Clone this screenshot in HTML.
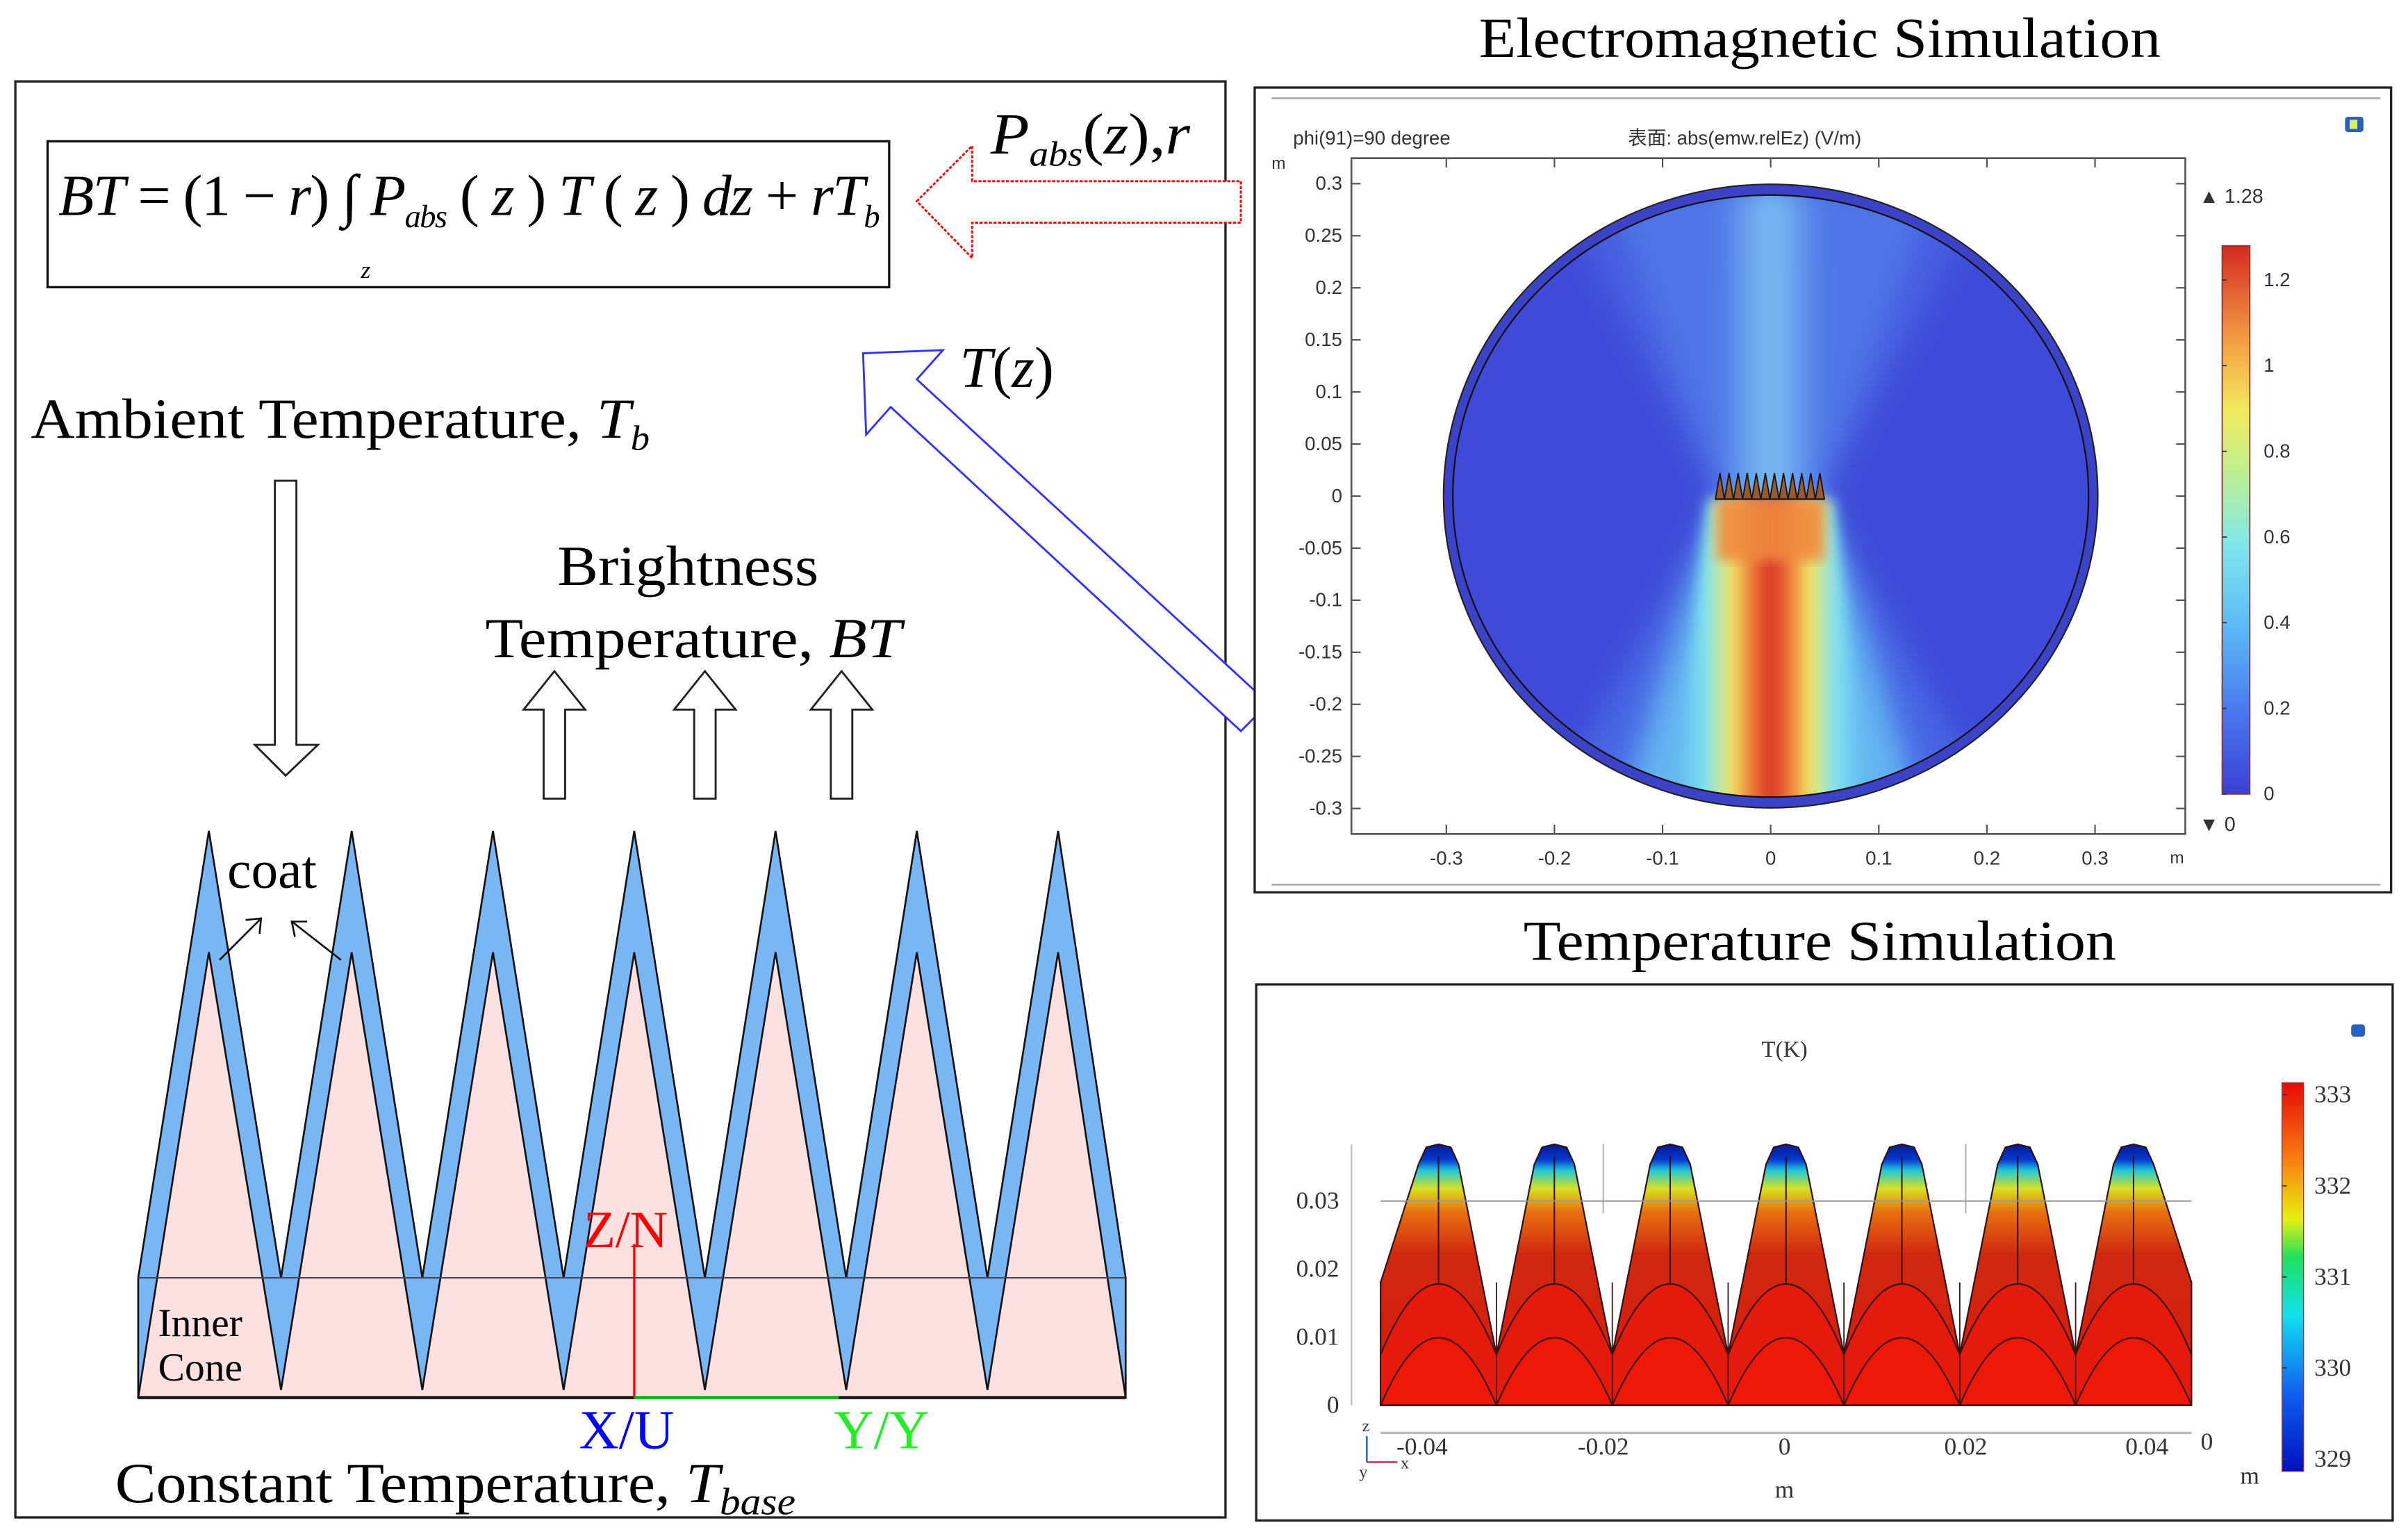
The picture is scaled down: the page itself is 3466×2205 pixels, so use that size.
<!DOCTYPE html>
<html><head><meta charset="utf-8">
<style>
html,body{margin:0;padding:0;background:#fff;}
svg{display:block;}
.serif{font-family:"Liberation Serif",serif;}
.sans{font-family:"Liberation Sans","Noto Sans CJK SC",sans-serif;}
</style></head>
<body>
<svg id="fig" width="3466" height="2205" viewBox="0 0 1568 997.5" preserveAspectRatio="none" xmlns="http://www.w3.org/2000/svg">
<defs>
  <linearGradient id="jet" x1="0" y1="1" x2="0" y2="0">
    <stop offset="0" stop-color="#3a3fd2"/>
    <stop offset="0.15" stop-color="#4a78ee"/>
    <stop offset="0.3" stop-color="#5ab8f5"/>
    <stop offset="0.45" stop-color="#7fe6ee"/>
    <stop offset="0.6" stop-color="#c4f08a"/>
    <stop offset="0.7" stop-color="#f2ea5e"/>
    <stop offset="0.82" stop-color="#f4a244"/>
    <stop offset="1" stop-color="#d42a22"/>
  </linearGradient>
  <linearGradient id="tjet" x1="0" y1="1" x2="0" y2="0">
    <stop offset="0" stop-color="#0010c0"/>
    <stop offset="0.2" stop-color="#1060f0"/>
    <stop offset="0.4" stop-color="#10e0f0"/>
    <stop offset="0.55" stop-color="#20e060"/>
    <stop offset="0.65" stop-color="#e8f010"/>
    <stop offset="0.8" stop-color="#f88010"/>
    <stop offset="1" stop-color="#e80808"/>
  </linearGradient>
  <linearGradient id="beamDown" x1="0" y1="0" x2="1" y2="0">
    <stop offset="0" stop-color="#6fd0f5" stop-opacity="0"/>
    <stop offset="0.18" stop-color="#80e4ef"/>
    <stop offset="0.3" stop-color="#f0e860"/>
    <stop offset="0.4" stop-color="#ee7a3a"/>
    <stop offset="0.5" stop-color="#d83024"/>
    <stop offset="0.6" stop-color="#ee7a3a"/>
    <stop offset="0.7" stop-color="#f0e860"/>
    <stop offset="0.82" stop-color="#80e4ef"/>
    <stop offset="1" stop-color="#6fd0f5" stop-opacity="0"/>
  </linearGradient>
  <linearGradient id="beamUp" x1="0" y1="0" x2="1" y2="0">
    <stop offset="0" stop-color="#7fd4f8" stop-opacity="0"/>
    <stop offset="0.5" stop-color="#8edcf8"/>
    <stop offset="1" stop-color="#7fd4f8" stop-opacity="0"/>
  </linearGradient>
  <linearGradient id="coneGrad" x1="0" y1="0" x2="0" y2="1">
    <stop offset="0" stop-color="#001a90"/>
    <stop offset="0.06" stop-color="#0838d0"/>
    <stop offset="0.1" stop-color="#20c8d8"/>
    <stop offset="0.17" stop-color="#d8e020"/>
    <stop offset="0.26" stop-color="#e87010"/>
    <stop offset="0.42" stop-color="#d02810"/>
    <stop offset="1" stop-color="#d81a0c"/>
  </linearGradient>
  <filter id="blur4"><feGaussianBlur stdDeviation="4"/></filter>
  <filter id="blur8"><feGaussianBlur stdDeviation="9"/></filter>
  <clipPath id="innerCircle"><ellipse cx="1153" cy="323" rx="207" ry="196"/></clipPath>
</defs>

<!-- LEFT PANEL -->
<g>
  <rect x="10" y="53" width="788" height="935" fill="none" stroke="#222" stroke-width="1.5"/>
  <rect x="31" y="92" width="548" height="95" fill="#fff" stroke="#111" stroke-width="1.5"/>
  <text x="38" y="140" class="serif" font-size="38" font-style="italic" textLength="535" lengthAdjust="spacing">BT<tspan font-style="normal"> = (1 − </tspan>r<tspan font-style="normal">) ∫ </tspan>P<tspan font-size="21" dy="8">abs</tspan><tspan dy="-8" font-style="normal"> ( </tspan>z<tspan font-style="normal"> ) </tspan>T<tspan font-style="normal"> ( </tspan>z<tspan font-style="normal"> ) </tspan>dz<tspan font-style="normal"> + </tspan>rT<tspan font-size="21" dy="8">b</tspan></text>
  <text x="235" y="181" class="serif" font-size="16" font-style="italic">z</text>

  <polygon points="597,131 633,95 633,118 808,118 808,145 633,145 633,168" fill="#fff" stroke="#f00" stroke-width="1.3" stroke-dasharray="2,1"/>
  <text x="645" y="100" class="serif" font-size="38" font-style="italic" textLength="130" lengthAdjust="spacingAndGlyphs">P<tspan font-size="23" dy="8">abs</tspan><tspan dy="-8" font-style="normal">(</tspan>z<tspan font-style="normal">),</tspan>r</text>

  <polygon points="562,230 614,228 597,247 826,458 808,476 580,265 564,283" fill="#fff" stroke="#33f" stroke-width="1.3"/>
  <text x="625" y="252" class="serif" font-size="38" font-style="italic">T<tspan font-style="normal">(</tspan>z<tspan font-style="normal">)</tspan></text>

  <text x="20" y="285" class="serif" font-size="37" textLength="403" lengthAdjust="spacingAndGlyphs">Ambient Temperature, <tspan font-style="italic">T</tspan><tspan font-style="italic" font-size="23" dy="8">b</tspan></text>
  <polygon points="179,313 193,313 193,485 207,485 186,505 166,485 179,485" fill="#fff" stroke="#222" stroke-width="1.3"/>

  <text x="363" y="381" class="serif" font-size="37" textLength="170" lengthAdjust="spacingAndGlyphs">Brightness</text>
  <text x="316" y="428" class="serif" font-size="37" textLength="271" lengthAdjust="spacingAndGlyphs">Temperature, <tspan font-style="italic">BT</tspan></text>
  <g id="upArrows"></g>

  <g id="cones"></g>

  <text x="380" y="812" class="serif" font-size="34" fill="#f00">Z/N</text>
  <line x1="413" y1="810" x2="413" y2="910" stroke="#f00" stroke-width="1.5"/>
  <line x1="413" y1="910" x2="546" y2="910" stroke="#0b0" stroke-width="2"/>
  <text x="377" y="943" class="serif" font-size="36" fill="#00f">X/U</text>
  <text x="543" y="943" class="serif" font-size="36" fill="#2e2">Y/Y</text>
  <text x="103" y="870" class="serif" font-size="26">Inner</text>
  <text x="103" y="899" class="serif" font-size="26">Cone</text>
  <text x="148" y="578" class="serif" font-size="35">coat</text>
  <g stroke="#111" stroke-width="1.2" fill="none">
    <line x1="143" y1="625" x2="170" y2="598"/><polyline points="160,599 170,598 169,608"/>
    <line x1="222" y1="625" x2="190" y2="600"/><polyline points="200,600 190,600 192,610"/>
  </g>
  <text x="75" y="978" class="serif" font-size="37" textLength="443" lengthAdjust="spacingAndGlyphs">Constant Temperature, <tspan font-style="italic">T</tspan><tspan font-style="italic" font-size="25" dy="8">base</tspan></text>
</g>

<!-- EM PANEL -->
<text x="1185" y="37" class="serif" font-size="37" text-anchor="middle" textLength="444" lengthAdjust="spacingAndGlyphs">Electromagnetic Simulation</text>
<g>
  <rect x="817" y="57" width="740" height="524" fill="#fff" stroke="#222" stroke-width="1.5"/>
  <line x1="828" y1="64" x2="1550" y2="64" stroke="#aaa" stroke-width="1.2"/>
  <line x1="828" y1="576" x2="1550" y2="576" stroke="#aaa" stroke-width="1.2"/>
  <rect x="1527" y="76" width="12" height="10" rx="2" fill="#2a5fc0"/>
  <rect x="1530" y="78" width="5" height="6" fill="#d8f060"/>
  <text x="842" y="94" class="sans" font-size="12.5" fill="#333">phi(91)=90 degree</text>
  <text x="1060" y="94" class="sans" font-size="12.5" fill="#333">表面: abs(emw.relEz) (V/m)</text>
  <text x="828" y="110" class="sans" font-size="11" fill="#333">m</text>

  <g>
    <ellipse cx="1153" cy="323" rx="213" ry="203" fill="#3d43c6" stroke="#222" stroke-width="1"/>
    <g clip-path="url(#innerCircle)">
      <rect x="940" y="120" width="430" height="410" fill="#3f4bd8"/>
      <g filter="url(#blur8)" opacity="0.85">
        <polygon points="1120,325 1186,325 1300,120 1006,120" fill="#4f6ee8" opacity="0.6"/>
        <polygon points="1120,325 1186,325 1260,120 1046,120" fill="#5a90ef" opacity="0.6"/>
        <polygon points="1120,325 1186,325 1185,120 1121,120" fill="url(#beamUp)"/>
        <polygon points="1120,325 1186,325 1300,530 1006,530" fill="#4c74ea" opacity="0.8"/>
        <polygon points="1120,325 1186,325 1250,530 1056,530" fill="#6cc8f5"/>
      </g>
      <polygon points="1112,325 1194,325 1218,530 1088,530" fill="url(#beamDown)" filter="url(#blur4)"/>
      <rect x="1118" y="325" width="70" height="40" fill="#ef8a40" filter="url(#blur4)" opacity="0.9"/>
    </g>
    <ellipse cx="1153" cy="323" rx="207" ry="196" fill="none" stroke="#111" stroke-width="1"/>
    <g id="emCones"></g>
  </g>
  <rect x="880" y="103" width="543" height="440" fill="none" stroke="#555" stroke-width="1.2"/>
  <g id="emAxes"></g>
  <text x="1413" y="562" class="sans" font-size="11" fill="#333">m</text>
  <rect x="1447" y="160" width="18" height="357" fill="url(#jet)" stroke="#833" stroke-width="0.8"/>
  <g id="emCbar"></g>
  <text x="1432" y="132" class="sans" font-size="13" fill="#333">▲ 1.28</text>
  <text x="1432" y="541" class="sans" font-size="13" fill="#333">▼ 0</text>
</g>

<!-- TEMPERATURE PANEL -->
<text x="1185" y="625" class="serif" font-size="37" text-anchor="middle" textLength="386" lengthAdjust="spacingAndGlyphs">Temperature Simulation</text>
<g>
  <rect x="818" y="641" width="740" height="349" fill="#fff" stroke="#222" stroke-width="1.5"/>
  <rect x="1531" y="667" width="9" height="8" rx="2" fill="#2a5fc0"/>
  <text x="1162" y="688" class="serif" font-size="15" text-anchor="middle" fill="#333">T(K)</text>
  <line x1="880" y1="745" x2="880" y2="915" stroke="#bbb" stroke-width="1"/>
  <g id="tempCones"></g>
  <g id="tempAxes"></g>
  <line x1="899" y1="933" x2="1427" y2="933" stroke="#bbb" stroke-width="1.5"/>
  <text x="1162" y="975" class="serif" font-size="16" text-anchor="middle" fill="#333">m</text>
  <text x="1465" y="966" class="serif" font-size="16" text-anchor="middle" fill="#333">m</text>
  <text x="1437" y="944" class="serif" font-size="16" text-anchor="middle" fill="#333">0</text>
  <g>
    <line x1="890" y1="952" x2="890" y2="935" stroke="#36c" stroke-width="1.2"/>
    <line x1="890" y1="952" x2="910" y2="952" stroke="#c36" stroke-width="1.2"/>
    <text x="887" y="932" class="serif" font-size="11" fill="#333">z</text>
    <text x="912" y="956" class="serif" font-size="11" fill="#333">x</text>
    <text x="885" y="962" class="serif" font-size="11" fill="#333">y</text>
  </g>
  <rect x="1486" y="705" width="14" height="253" fill="url(#tjet)" stroke="#833" stroke-width="0.6"/>
  <g id="tempCbar"></g>
</g>
</svg>

<script>
const NS = "http://www.w3.org/2000/svg";
// ---- data arrays ----
const coneTipX = [136, 229, 321, 413, 505, 597, 689];
const coneValleyX = [183, 275, 367, 459, 551, 643];
const upArrowX = [361, 459, 548];
const emYTicks = [0.3, 0.25, 0.2, 0.15, 0.1, 0.05, 0, -0.05, -0.1, -0.15, -0.2, -0.25, -0.3];
const emYLabels = ["0.3","0.25","0.2","0.15","0.1","0.05","0","-0.05","-0.1","-0.15","-0.2","-0.25","-0.3"];
const emXTicks = [-0.3, -0.2, -0.1, 0, 0.1, 0.2, 0.3];
const emXLabels = ["-0.3","-0.2","-0.1","0","0.1","0.2","0.3"];
const emCbarTicks = [0, 0.2, 0.4, 0.6, 0.8, 1, 1.2];
const emCbarLabels = ["0","0.2","0.4","0.6","0.8","1","1.2"];
const emCbarMax = 1.28;
const tempYTicks = [0, 0.01, 0.02, 0.03];
const tempYLabels = ["0","0.01","0.02","0.03"];
const tempXTicks = [-0.04, -0.02, 0, 0.02, 0.04];
const tempXLabels = ["-0.04","-0.02","0","0.02","0.04"];
const tempCbarTicks = [329, 330, 331, 332, 333];
const tempCbarLabels = ["329","330","331","332","333"];
const tempConeCount = 7;

// ---- axis functions ----
const emX = v => 1153 + v * 704;
const emY = v => 323 - v * 678;
const emC = v => 517 - (v / emCbarMax) * 357;
const tX = v => 1162 + v * 5900;
const tY = v => 915 - v * 4433;
const tC = v => 950 - (v - 329) * 59.3;

function mk(tag, attrs, parent) {
  const e = document.createElementNS(NS, tag);
  for (const k in attrs) e.setAttribute(k, attrs[k]);
  parent.appendChild(e);
  return e;
}
function txt(x, y, s, size, anchor, parent, cls, fill) {
  const t = mk("text", {x: x, y: y, "font-size": size, "text-anchor": anchor, class: cls, fill: fill || "#333"}, parent);
  t.textContent = s;
  return t;
}

// up arrows
const ua = document.getElementById("upArrows");
upArrowX.forEach(x => {
  const p = mk("polygon", {points: `${x},437 ${x+20},462 ${x+7},462 ${x+7},520 ${x-7},520 ${x-7},462 ${x-20},462`, fill: "#fff", stroke: "#222", "stroke-width": 1.3}, ua);
  
  
});

// cones diagram
const cg = document.getElementById("cones");
let outer = "90,910 90,832 ";
let inner = "90,910 ";
coneTipX.forEach((x, i) => {
  outer += `${x},541 `;
  inner += `${x},620 `;
  if (i < coneValleyX.length) { outer += `${coneValleyX[i]},832 `; inner += `${coneValleyX[i]},905 `; }
});
outer += "733,832 733,910";
inner += "733,910";
const op = mk("polygon", {points: outer, fill: "#79b6f4", stroke: "#111", "stroke-width": 1.2}, cg);


const ip = mk("polygon", {points: inner, fill: "#fde0e0", stroke: "#111", "stroke-width": 1.2}, cg);


const hl = mk("line", {x1: 90, y1: 832, x2: 733, y2: 832, stroke: "#445", "stroke-width": 1}, cg);


const bl = mk("line", {x1: 90, y1: 910, x2: 733, y2: 910, stroke: "#111", "stroke-width": 2}, cg);



// EM small cones
const ec = document.getElementById("emCones");
let ep = "1117,325 ";
for (let i = 0; i < 12; i++) {
  const x0 = 1117 + i * 71 / 12;
  ep += `${x0 + 71/24},308 ${x0 + 71/12},325 `;
}
const emc = mk("polygon", {points: ep, fill: "#9a5a30", stroke: "#111", "stroke-width": 0.8}, ec);


mk("line", {x1: 1117, y1: 325, x2: 1188, y2: 325, stroke: "#222", "stroke-width": 1.2}, ec);

// EM axes
const ea = document.getElementById("emAxes");
emYTicks.forEach((v, i) => {
  const y = emY(v);
  mk("line", {x1: 880, y1: y, x2: 886, y2: y, stroke: "#555", "stroke-width": 1}, ea);
  mk("line", {x1: 1417, y1: y, x2: 1423, y2: y, stroke: "#555", "stroke-width": 1}, ea);
  const t = txt(874, y + 4, emYLabels[i], 12.5, "end", ea, "sans");
  
  
});
emXTicks.forEach((v, i) => {
  const x = emX(v);
  mk("line", {x1: x, y1: 537, x2: x, y2: 543, stroke: "#555", "stroke-width": 1}, ea);
  mk("line", {x1: x, y1: 103, x2: x, y2: 109, stroke: "#555", "stroke-width": 1}, ea);
  const t = txt(x, 563, emXLabels[i], 12.5, "middle", ea, "sans");
  
  
});
const ecb = document.getElementById("emCbar");
emCbarTicks.forEach((v, i) => {
  const y = emC(v);
  mk("line", {x1: 1447, y1: y, x2: 1450, y2: y, stroke: "#333", "stroke-width": 0.8}, ecb);
  const t = txt(1474, y + 4, emCbarLabels[i], 12.5, "start", ecb, "sans");
  
  
});

// Temperature cones
const tcg = document.getElementById("tempCones");
const x0 = 899, x1 = 1427, period = (x1 - x0) / tempConeCount;
const bodyBase = tY(0), shoulder = 835, valley = 882, tipY = 745;
let sil = `${x0},${bodyBase} ${x0},${shoulder} `;
for (let i = 0; i < tempConeCount; i++) {
  const a = x0 + i * period, c = a + period / 2, b = a + period;
  sil += `${c - 13},758 ${c - 8},${tipY + 2} ${c},${tipY} ${c + 8},${tipY + 2} ${c + 13},758 `;
  sil += (i < tempConeCount - 1) ? `${b},${valley} ` : `${b},${shoulder} `;
}
sil += `${x1},${bodyBase}`;
const tp = mk("polygon", {points: sil, fill: "url(#coneGrad)", stroke: "#301010", "stroke-width": 1}, tcg);


for (let i = 0; i < tempConeCount; i++) {
  const a = x0 + i * period, c = a + period / 2, b = a + period;
  const upperArc = mk("path", {d: `M${a},${valley} Q${c},${2*836-valley} ${b},${valley} L${b},${bodyBase} L${a},${bodyBase} Z`, fill: "#e41a0c", stroke: "none"}, tcg);
  
  
  mk("path", {d: `M${a},${valley} Q${c},${2*836-valley} ${b},${valley}`, fill: "none", stroke: "#401010", "stroke-width": 1}, tcg);
  const lowerArc = mk("path", {d: `M${a},${bodyBase} Q${c},${2*871-bodyBase} ${b},${bodyBase}`, fill: "#ee1808", stroke: "#401010", "stroke-width": 1}, tcg);
  
  
  mk("line", {x1: c, y1: tipY + 8, x2: c, y2: 836, stroke: "#301010", "stroke-width": 0.9}, tcg);
  mk("line", {x1: a, y1: shoulder, x2: a, y2: bodyBase, stroke: "#401010", "stroke-width": 0.8}, tcg);
}
mk("line", {x1: x1, y1: shoulder, x2: x1, y2: bodyBase, stroke: "#401010", "stroke-width": 0.8}, tcg);
mk("line", {x1: x0, y1: bodyBase, x2: x1, y2: bodyBase, stroke: "#401010", "stroke-width": 1.2}, tcg);
// grid lines
const gl = mk("line", {x1: 899, y1: tY(0.03), x2: 1427, y2: tY(0.03), stroke: "#999", "stroke-width": 1.2, opacity: 0.8}, tcg);


[-0.02, 0.02].forEach(v => {
  mk("line", {x1: tX(v), y1: 745, x2: tX(v), y2: 790, stroke: "#999", "stroke-width": 1, opacity: 0.7}, tcg);
});

const ta = document.getElementById("tempAxes");
tempYTicks.forEach((v, i) => {
  const t = txt(872, tY(v) + 5, tempYLabels[i], 16, "end", ta, "serif");
  
  
});
tempXTicks.forEach((v, i) => {
  const t = txt(tX(v), 947, tempXLabels[i], 16, "middle", ta, "serif");
  
  
});
const tcb = document.getElementById("tempCbar");
tempCbarTicks.forEach((v, i) => {
  const y = tC(v);
  mk("line", {x1: 1486, y1: y, x2: 1489, y2: y, stroke: "#333", "stroke-width": 0.8}, tcb);
  const t = txt(1507, y + 5, tempCbarLabels[i], 16, "start", tcb, "serif");
  
  
});
</script>
</body></html>
